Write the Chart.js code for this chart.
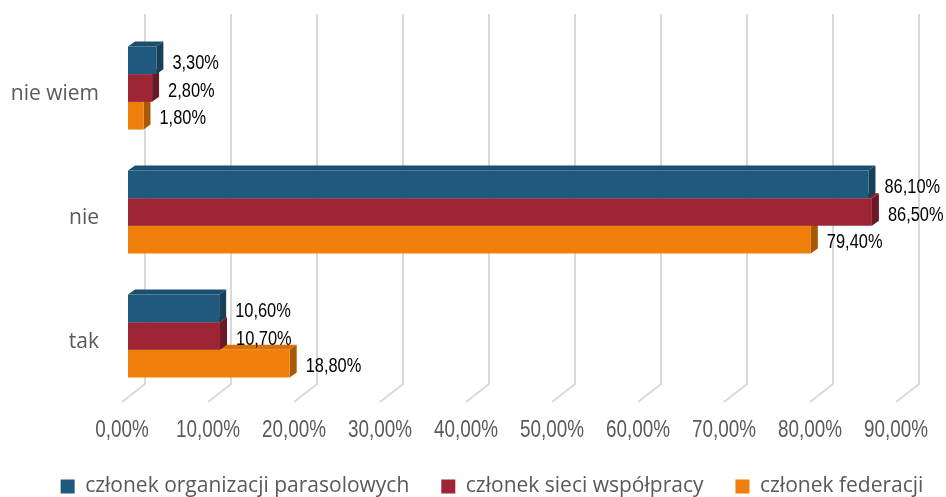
<!DOCTYPE html>
<html>
<head>
<meta charset="utf-8">
<script src="https://cdn.jsdelivr.net/npm/chart.js@4.4.0/dist/chart.umd.min.js"></script>
<style>
html, body { margin: 0; padding: 0; background: #fff; }
</style>
</head>
<body>
<canvas id="myChart" width="946" height="497"></canvas>
<script>
// dane z wykresu
const categories = ['nie wiem', 'nie', 'tak'];
const seriesNames = ['członek organizacji parasolowych', 'członek sieci współpracy', 'członek federacji'];
const parasolowe = [3.3, 86.1, 10.6];
const sieci = [2.8, 86.5, 10.7];
const federacje = [1.8, 79.4, 18.8];
const xTicks = [0, 10, 20, 30, 40, 50, 60, 70, 80, 90];

const frontColors = ['#1f5a7e', '#9e2536', '#ef7f0a'];
const topColors = ['#1b4f6f', '#87202e', '#d97108'];
const sideColors = ['#163f58', '#6b1a25', '#a75906'];

const labelFont = '"Open Sans", "Noto Sans", sans-serif';

function fmt(v) {
  return v.toFixed(2).replace('.', ',') + '%';
}

// tekst "waski" (jak Arial Narrow)
function narrowText(ctx, text, x, y, size, align, color) {
  ctx.save();
  ctx.font = size + 'px "Liberation Sans", Arial, sans-serif';
  ctx.fillStyle = color;
  ctx.textAlign = align;
  ctx.textBaseline = 'middle';
  ctx.translate(x, y);
  ctx.scale(0.82, 1);
  ctx.fillText(text, 0, 0);
  ctx.restore();
}

// siatka 3D + boki slupkow + etykiety
const bars3d = {
  id: 'bars3d',
  afterLayout(chart) {
    // legenda troche w prawo, jak w oryginale
    chart.legend.left += 19;
    chart.legend.right += 19;
  },
  beforeDatasetsDraw(chart) {
    const ctx = chart.ctx;
    const area = chart.chartArea;
    const xs = chart.scales.x;
    ctx.save();
    ctx.strokeStyle = '#d9d9d9';
    ctx.lineWidth = 2;
    xTicks.forEach(v => {
      const px = xs.getPixelForValue(v);
      ctx.beginPath();
      ctx.moveTo(px + 17, area.top - 12);
      ctx.lineTo(px + 17, area.bottom - 14);
      ctx.lineTo(px - 6, area.bottom + 4);
      ctx.stroke();
      narrowText(ctx, fmt(v), px - 6, area.bottom + 33, 23, 'center', '#595959');
    });

    const dx = 7, dy = 5;
    let bars = [];
    chart.data.datasets.forEach((ds, i) => {
      const meta = chart.getDatasetMeta(i);
      meta.data.forEach((el, j) => {
        bars.push({ el: el, i: i, v: ds.data[j] });
      });
    });
    // gorne sciany
    bars.forEach(b => {
      const el = b.el;
      const top = el.y - el.height / 2;
      ctx.fillStyle = topColors[b.i];
      ctx.beginPath();
      ctx.moveTo(el.base, top);
      ctx.lineTo(el.base + dx, top - dy);
      ctx.lineTo(el.x + dx, top - dy);
      ctx.lineTo(el.x, top);
      ctx.closePath();
      ctx.fill();
    });
    // boczne sciany, od najkrotszych
    bars.sort((a, b) => a.v - b.v);
    bars.forEach(b => {
      const el = b.el;
      const top = el.y - el.height / 2;
      const bot = el.y + el.height / 2;
      ctx.fillStyle = sideColors[b.i];
      ctx.beginPath();
      ctx.moveTo(el.x, top);
      ctx.lineTo(el.x + dx, top - dy);
      ctx.lineTo(el.x + dx, bot - dy);
      ctx.lineTo(el.x, bot);
      ctx.closePath();
      ctx.fill();
    });
    ctx.restore();
  },
  afterDatasetsDraw(chart) {
    const ctx = chart.ctx;
    chart.data.datasets.forEach((ds, i) => {
      chart.getDatasetMeta(i).data.forEach((el, j) => {
        narrowText(ctx, fmt(ds.data[j]), el.x + 16, el.y + 3, 20, 'left', '#000');
      });
    });
  }
};

const ctx = document.getElementById('myChart').getContext('2d');
const myChart = new Chart(ctx, {
  type: 'bar',
  data: {
    labels: categories,
    datasets: [
      { label: seriesNames[0], data: parasolowe, backgroundColor: frontColors[0] },
      { label: seriesNames[1], data: sieci, backgroundColor: frontColors[1] },
      { label: seriesNames[2], data: federacje, backgroundColor: frontColors[2] }
    ]
  },
  options: {
    indexAxis: 'y',
    responsive: false,
    animation: false,
    devicePixelRatio: 1,
    datasets: {
      bar: { categoryPercentage: 0.67, barPercentage: 1.0, borderWidth: 0 }
    },
    layout: { padding: { top: 26, right: 0, left: 0, bottom: -10 } },
    scales: {
      x: {
        min: 0,
        max: 90,
        afterBuildTicks(scale) {
          scale.ticks = xTicks.map(v => ({ value: v }));
        },
        afterFit(scale) {
          scale.height = 507 - 398 - scale.chart.legend.height;
          scale.paddingLeft = 0;
          scale.paddingRight = 44;
        },
        grid: { display: false, drawTicks: false },
        border: { display: false },
        ticks: { display: false }
      },
      y: {
        afterFit(scale) {
          scale.width = 128;
          scale.paddingTop = 0;
          scale.paddingBottom = 0;
        },
        grid: { display: false, drawTicks: false },
        border: { display: false },
        ticks: {
          font: { family: labelFont, size: 21 },
          color: '#595959',
          padding: 29,
          labelOffset: 6
        }
      }
    },
    plugins: {
      legend: {
        position: 'bottom',
        labels: {
          boxWidth: 14,
          boxHeight: 14,
          padding: 32,
          color: '#595959',
          font: { family: labelFont, size: 21 }
        }
      },
      tooltip: { enabled: false }
    }
  },
  plugins: [bars3d]
});
</script>
</body>
</html>
